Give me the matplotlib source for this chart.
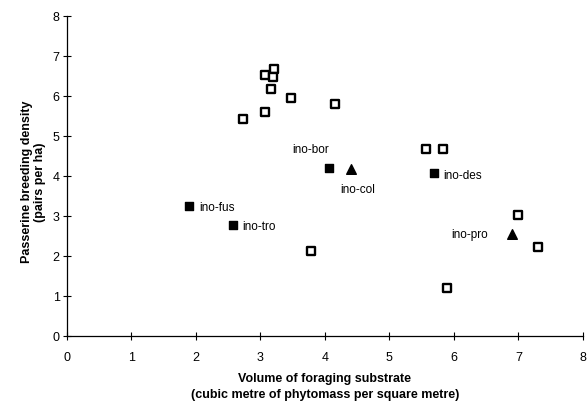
import matplotlib

matplotlib.use("Agg")
import matplotlib.pyplot as plt

plt.rcParams["font.family"] = ["Liberation Sans", "DejaVu Sans"]

# open squares: other sites
open_x = [3.07, 3.21, 3.20, 3.17, 3.48, 2.73, 3.08, 4.15, 5.57, 5.83, 3.79, 5.89, 6.99, 7.30]
open_y = [6.52, 6.68, 6.47, 6.18, 5.94, 5.41, 5.60, 5.80, 4.68, 4.66, 2.13, 1.21, 3.02, 2.23]

# filled squares (labelled)
sq_labels = ["ino-fus", "ino-tro", "ino-bor", "ino-des"]
sq_x = [1.90, 2.57, 4.06, 5.69]
sq_y = [3.25, 2.77, 4.19, 4.06]

# filled triangles (labelled)
tri_labels = ["ino-col", "ino-pro"]
tri_x = [4.41, 6.90]
tri_y = [4.16, 2.54]

fig = plt.figure(figsize=(5.88, 4.02), dpi=100)
ax = fig.add_axes((66.7 / 588, 1 - 337 / 402, (583 - 66.7) / 588, (337 - 16.7) / 402))

ax.scatter(open_x, open_y, marker="s", s=36, facecolors="white", edgecolors="black", linewidths=1.7, zorder=3)
ax.scatter(sq_x, sq_y, marker="s", s=38, color="black", zorder=3)
ax.scatter(tri_x, tri_y, marker="^", s=48, color="black", zorder=3)

# label offsets in points
sq_off = [(7, -1), (7, -1), (-26, 14), (7, -1)]
for lab, x, y, off in zip(sq_labels, sq_x, sq_y, sq_off):
    ax.annotate(lab, (x, y), xytext=off, textcoords="offset points", fontsize=8.5, va="center", ha="left")
tri_off = [(-8, -14), (-44, 0)]
for lab, x, y, off in zip(tri_labels, tri_x, tri_y, tri_off):
    ax.annotate(lab, (x, y), xytext=off, textcoords="offset points", fontsize=8.5, va="center", ha="left")

ax.set_xlim(0, 8)
ax.set_ylim(0, 8)
ax.set_xticks(range(9))
ax.set_yticks(range(9))
ax.tick_params(direction="inout", length=6, width=0.8, labelsize=9)
ax.tick_params(axis="x", pad=8)
ax.tick_params(axis="y", pad=2)
for side in ("top", "right"):
    ax.spines[side].set_visible(False)
for side in ("left", "bottom"):
    ax.spines[side].set_linewidth(0.9)

ax.set_xlabel("Volume of foraging substrate\n(cubic metre of phytomass per square metre)",
              fontsize=9, fontweight="bold", labelpad=6, linespacing=1.45)
ax.set_ylabel("Passerine breeding density\n(pairs per ha)", fontsize=9, fontweight="bold", labelpad=5,
              linespacing=1.05, y=0.484)

fig.savefig("out.png", dpi=100)
